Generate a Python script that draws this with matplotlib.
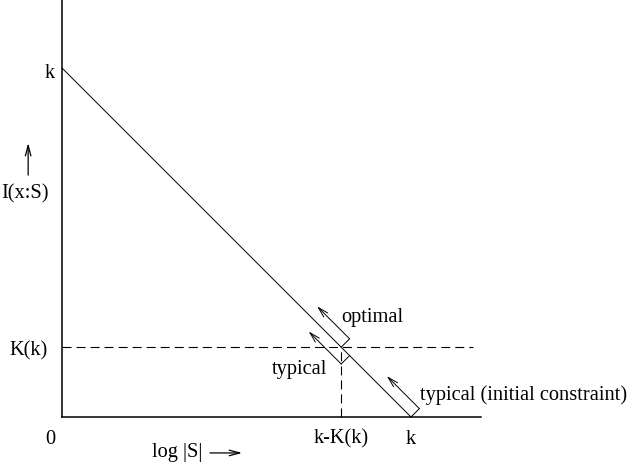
import numpy as np
import matplotlib
matplotlib.use("Agg")
import matplotlib.pyplot as plt

plt.rcParams['font.family'] = ['Liberation Serif', 'DejaVu Serif']
plt.rcParams['lines.scale_dashes'] = False

# diagram values (k normalised to 1)
k = 1.0
K = 0.2
x_labels = ["0", "k-K(k)", "k"]
x_label_pos = [0.0, k - K, k]
y_labels = ["k", "K(k)"]
y_label_pos = [k, K]

fig = plt.figure(figsize=(6.32, 4.66), dpi=100)
ax = fig.add_axes([0, 0, 1, 1])
ax.set_xlim(-62 / 349, 570 / 349)
ax.set_ylim(-49 / 349, 417 / 349)
ax.axis('off')

fs = 14.7
dash = (6.5, 3.6)
head = "->,head_length=0.75,head_width=0.2"

# axes
ax.plot([0, 1.2], [0, 0], color='black', lw=1.1)
ax.plot([0, 0], [0, 1.25], color='black', lw=1.1)

# main line I = k - log|S|
xs = np.array([0.0, k])
ax.plot(xs, k - xs, color='black', lw=0.7)

# dashed guides
ax.plot([0, 1.178], [K, K], color='black', lw=0.8, dashes=dash)
ax.plot([k - K, k - K], [0, K], color='black', lw=0.8, dashes=dash)

# small brackets with arrows along the line
d = 0.034
L = 0.132
n = np.array([1.0, 1.0]) / np.sqrt(2)
t = np.array([-1.0, 1.0]) / np.sqrt(2)

def bracket(base, side):
    base = np.asarray(base)
    corner = base + side * d * n
    ax.plot([base[0], corner[0]], [base[1], corner[1]], color='black', lw=0.7)
    tip = corner + L * t
    ax.annotate("", xy=tip, xytext=corner,
                arrowprops=dict(arrowstyle=head, color='black', lw=0.7,
                                shrinkA=0, shrinkB=0))

bracket((k - K, K), 1)
bracket((k - K + d / np.sqrt(2), K - d / np.sqrt(2)), -1)
bracket((k, 0.0), 1)

# tick-like labels
for lab, xp in zip(x_labels, x_label_pos):
    ax.text(xp if lab != "0" else -0.034, -0.077, lab, fontsize=fs,
            ha='center', va='baseline')
ax.text(-0.02, y_label_pos[0] - 0.029, y_labels[0], fontsize=fs, ha='right', va='baseline')
ax.text(-0.04, y_label_pos[1] - 0.025, y_labels[1], fontsize=fs, ha='right', va='baseline')

# axis titles
ax.text(-0.106, 0.625, "I(x:S)", fontsize=fs, ha='center', va='baseline')
ax.annotate("", xy=(-0.097, 0.785), xytext=(-0.097, 0.693),
            arrowprops=dict(arrowstyle=head, color='black', lw=0.9,
                            shrinkA=0, shrinkB=0))
ax.text(0.330, -0.115, "log |S|", fontsize=fs, ha='center', va='baseline')
ax.annotate("", xy=(0.516, -0.103), xytext=(0.424, -0.103),
            arrowprops=dict(arrowstyle=head, color='black', lw=0.9,
                            shrinkA=0, shrinkB=0))

# annotations
ax.text(0.799, 0.271, "optimal", fontsize=fs, ha='left', va='baseline')
ax.text(0.759, 0.123, "typical", fontsize=fs, ha='right', va='baseline')
ax.text(1.026, 0.049, "typical (initial constraint)", fontsize=fs, ha='left', va='baseline')

fig.savefig("out.png", dpi=100)
